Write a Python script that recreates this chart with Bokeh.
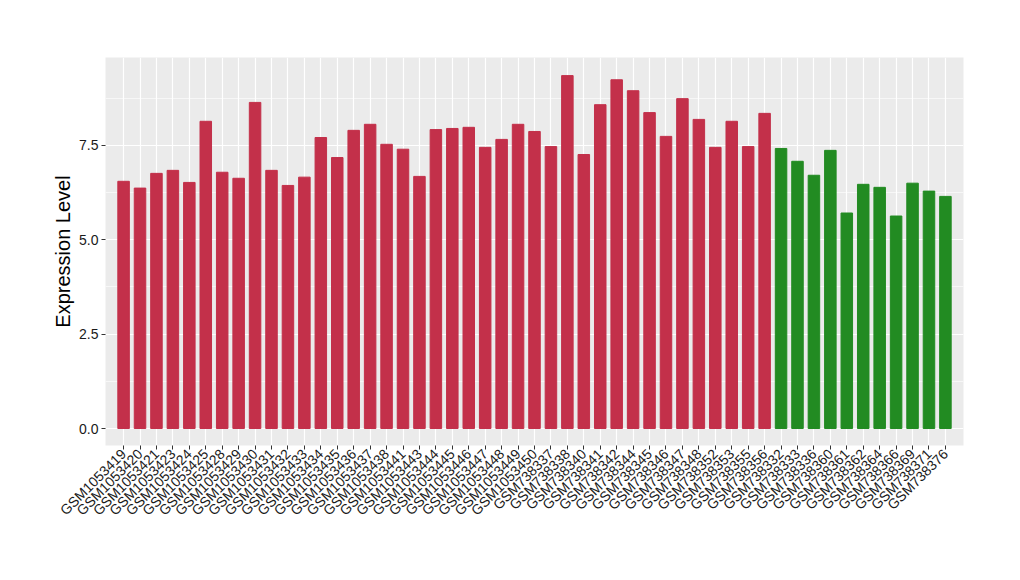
import math
from bokeh.plotting import figure
from bokeh.models import FactorRange, Range1d, ColumnDataSource, FixedTicker, CustomJSTickFormatter
from bokeh.embed import file_html
from bokeh.resources import INLINE

samples = ["GSM1053419", "GSM1053420", "GSM1053421", "GSM1053423", "GSM1053424", "GSM1053425",
           "GSM1053428", "GSM1053429", "GSM1053430", "GSM1053431", "GSM1053432", "GSM1053433",
           "GSM1053434", "GSM1053435", "GSM1053436", "GSM1053437", "GSM1053438", "GSM1053441",
           "GSM1053443", "GSM1053444", "GSM1053445", "GSM1053446", "GSM1053447", "GSM1053448",
           "GSM1053449", "GSM1053450", "GSM738337", "GSM738338", "GSM738340", "GSM738341",
           "GSM738342", "GSM738344", "GSM738345", "GSM738346", "GSM738347", "GSM738348",
           "GSM738352", "GSM738353", "GSM738355", "GSM738356",
           "GSM738332", "GSM738333", "GSM738336", "GSM738360", "GSM738361", "GSM738362",
           "GSM738364", "GSM738366", "GSM738369", "GSM738371", "GSM738376"]
values = [6.55, 6.37, 6.76, 6.84, 6.52, 8.14, 6.79, 6.63, 8.64, 6.84, 6.44, 6.66,
          7.71, 7.18, 7.90, 8.06, 7.53, 7.40, 6.68, 7.92, 7.95, 7.98, 7.45, 7.66,
          8.06, 7.87, 7.47, 9.35, 7.26, 8.58, 9.24, 8.95, 8.37, 7.74, 8.74, 8.19,
          7.45, 8.14, 7.47, 8.35,
          7.42, 7.08, 6.71, 7.37, 5.71, 6.47, 6.39, 5.63, 6.50, 6.29, 6.15]
groups = ["red"] * 40 + ["green"] * 11
palette = {"red": "#C3304A", "green": "#228B22"}

src = ColumnDataSource(dict(x=samples, top=values, color=[palette[g] for g in groups]))

n = len(samples)
p = figure(width=1000, height=560, output_backend="svg", toolbar_location=None,
           x_range=FactorRange(factors=samples, range_padding=1.2 / n, range_padding_units="percent"),
           y_range=Range1d(-0.45, 9.83),
           min_border_left=105, min_border_right=37, min_border_top=57, min_border_bottom=115)

p.vbar(x="x", top="top", bottom=0, width=0.7, color="color", source=src)

p.background_fill_color = "#EBEBEB"
p.border_fill_color = "white"
p.outline_line_color = None

p.yaxis.ticker = FixedTicker(ticks=[0, 2.5, 5, 7.5], minor_ticks=[1.25, 3.75, 6.25, 8.75])
p.yaxis.formatter = CustomJSTickFormatter(code="return tick.toFixed(1);")
p.ygrid.grid_line_color = "white"
p.ygrid.grid_line_width = 1.2
p.ygrid.minor_grid_line_color = "white"
p.ygrid.minor_grid_line_width = 0.6
p.xgrid.grid_line_color = "white"
p.xgrid.grid_line_width = 1.2

for ax in (p.xaxis, p.yaxis):
    ax.axis_line_color = None
    ax.major_tick_line_color = "#333333"
    ax.major_tick_out = 4
    ax.major_tick_in = 0
    ax.minor_tick_line_color = None
    ax.major_label_text_font = "Liberation Sans"
    ax.major_label_text_font_size = "14px"
    ax.major_label_text_color = "#1A1A1A"

p.xaxis.major_label_orientation = math.pi / 4
p.xaxis.major_label_standoff = 2
p.yaxis.major_label_standoff = 3
p.yaxis.axis_label = "Expression Level"
p.yaxis.axis_label_text_font = "Liberation Sans"
p.yaxis.axis_label_text_font_size = "20px"
p.yaxis.axis_label_text_font_style = "normal"
p.yaxis.axis_label_text_color = "black"
p.yaxis.axis_label_standoff = 2

open("out.html", "w").write(file_html(p, INLINE))
